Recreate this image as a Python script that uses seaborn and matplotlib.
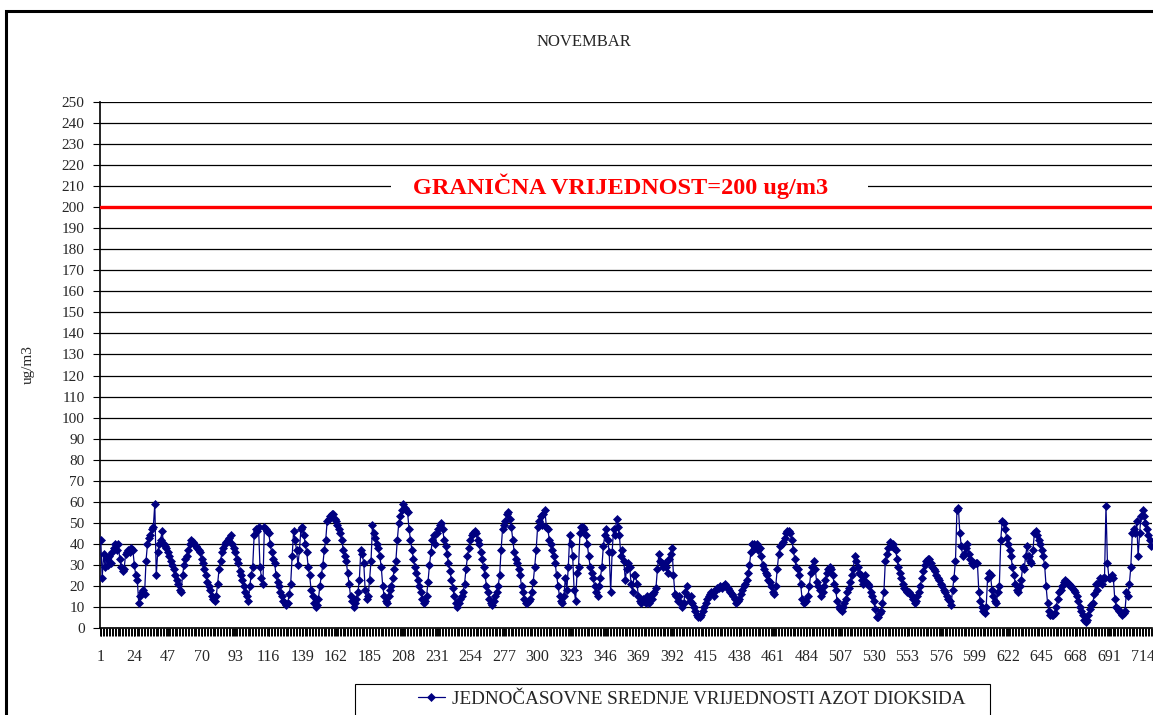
import numpy as np
import pandas as pd
import matplotlib
matplotlib.use("Agg")
import matplotlib.pyplot as plt
from matplotlib.patches import Rectangle
import seaborn as sns

# hourly NO2 values for November, one list per day (24 hours each)
day_01 = [42, 24, 35, 29, 33, 30, 34, 31, 36, 38, 40, 37, 40, 33, 29, 27, 28, 35, 36, 37, 36, 38, 37, 30]
day_02 = [25, 23, 12, 15, 17, 18, 16, 32, 40, 43, 44, 47, 48, 59, 25, 36, 40, 42, 46, 40, 39, 38, 36, 34]
day_03 = [32, 30, 28, 25, 23, 21, 18, 17, 25, 30, 33, 34, 37, 40, 42, 41, 40, 39, 38, 37, 36, 33, 31, 28]
day_04 = [25, 22, 20, 18, 15, 14, 13, 15, 21, 28, 32, 36, 38, 40, 41, 42, 43, 44, 40, 38, 36, 33, 31, 27]
day_05 = [25, 23, 20, 17, 15, 13, 20, 25, 29, 44, 47, 46, 48, 29, 24, 21, 48, 47, 46, 45, 40, 36, 33, 31]
day_06 = [25, 22, 20, 17, 15, 13, 12, 11, 12, 16, 21, 34, 46, 42, 37, 30, 37, 47, 48, 44, 40, 36, 29, 25]
day_07 = [18, 15, 12, 10, 11, 14, 20, 25, 30, 37, 42, 51, 52, 53, 54, 54, 52, 51, 49, 47, 45, 42, 37, 34]
day_08 = [32, 26, 21, 15, 13, 10, 12, 14, 17, 23, 37, 35, 31, 18, 14, 15, 23, 32, 49, 45, 43, 40, 38, 34]
day_09 = [29, 20, 15, 13, 12, 15, 18, 20, 24, 28, 32, 42, 50, 53, 56, 59, 57, 56, 55, 47, 42, 37, 33, 29]
day_10 = [26, 23, 20, 17, 14, 12, 13, 15, 22, 30, 36, 42, 44, 40, 45, 47, 49, 50, 47, 42, 39, 35, 31, 27]
day_11 = [23, 19, 15, 12, 10, 12, 14, 15, 17, 21, 28, 34, 38, 42, 44, 45, 46, 45, 42, 40, 36, 33, 29, 25]
day_12 = [20, 17, 14, 12, 11, 13, 15, 17, 20, 25, 37, 47, 49, 51, 54, 55, 52, 48, 42, 36, 33, 31, 28, 25]
day_13 = [20, 17, 14, 12, 12, 13, 14, 17, 22, 29, 37, 48, 51, 53, 49, 54, 56, 48, 47, 42, 40, 37, 34, 31]
day_14 = [25, 20, 15, 13, 12, 15, 24, 18, 29, 44, 40, 34, 18, 13, 26, 29, 45, 48, 48, 47, 44, 40, 34, 29]
day_15 = [26, 24, 20, 17, 15, 20, 24, 29, 39, 44, 47, 42, 36, 17, 36, 47, 44, 52, 48, 44, 34, 37, 32, 23]
day_16 = [28, 31, 29, 21, 17, 25, 25, 21, 15, 13, 12, 14, 13, 12, 15, 12, 15, 14, 16, 17, 19, 28, 35, 32]
day_17 = [31, 29, 31, 29, 26, 33, 35, 38, 25, 16, 15, 13, 15, 12, 10, 12, 17, 20, 15, 13, 15, 12, 10, 8]
day_18 = [6, 5, 5, 6, 8, 10, 12, 14, 15, 16, 17, 17, 15, 18, 19, 19, 20, 19, 20, 21, 20, 19, 18, 17]
day_19 = [16, 15, 14, 12, 13, 14, 16, 18, 20, 21, 23, 26, 30, 36, 40, 40, 38, 40, 37, 38, 34, 30, 28, 26]
day_20 = [25, 23, 22, 20, 17, 16, 20, 28, 35, 39, 40, 41, 43, 45, 46, 46, 45, 42, 37, 33, 29, 28, 25, 21]
day_21 = [14, 12, 13, 13, 15, 20, 26, 29, 32, 28, 22, 20, 18, 15, 17, 20, 23, 26, 28, 29, 28, 25, 21, 18]
day_22 = [13, 10, 9, 8, 10, 12, 14, 17, 19, 22, 25, 28, 34, 32, 29, 26, 25, 23, 21, 25, 22, 21, 20, 17]
day_23 = [15, 13, 9, 5, 5, 7, 8, 12, 17, 32, 35, 38, 41, 39, 40, 38, 37, 33, 29, 26, 24, 21, 19, 18]
day_24 = [17, 17, 16, 15, 14, 12, 13, 15, 17, 20, 24, 27, 30, 32, 33, 33, 31, 29, 28, 27, 25, 24, 23, 21]
day_25 = [20, 18, 17, 15, 14, 13, 11, 18, 24, 32, 56, 57, 45, 39, 34, 35, 38, 40, 35, 33, 31, 30, 31, 31]
day_26 = [31, 17, 13, 10, 8, 7, 10, 24, 26, 25, 18, 15, 13, 12, 17, 20, 42, 51, 50, 47, 43, 40, 37, 34]
day_27 = [29, 25, 21, 18, 17, 20, 23, 29, 28, 34, 39, 34, 32, 31, 37, 45, 46, 44, 42, 40, 37, 34, 30, 20]
day_28 = [12, 8, 6, 6, 6, 7, 10, 14, 17, 18, 20, 22, 23, 22, 21, 21, 20, 19, 18, 17, 15, 13, 10, 8]
day_29 = [6, 4, 3, 4, 6, 9, 11, 12, 16, 21, 18, 22, 24, 21, 24, 24, 58, 31, 24, 24, 25, 24, 14, 10]
day_30 = [9, 8, 7, 6, 7, 8, 17, 15, 21, 29, 45, 47, 45, 51, 34, 45, 53, 56, 53, 50, 47, 44, 42, 39]

days = [day_01, day_02, day_03, day_04, day_05, day_06, day_07, day_08, day_09, day_10,
        day_11, day_12, day_13, day_14, day_15, day_16, day_17, day_18, day_19, day_20,
        day_21, day_22, day_23, day_24, day_25, day_26, day_27, day_28, day_29, day_30]
values = [v for d in days for v in d]
hours = list(range(1, len(values) + 1))

x_tick_labels = list(range(1, 715, 23))
y_ticks = list(range(0, 251, 10))
limit_value = 200
limit_text = "GRANIČNA VRIJEDNOST=200 ug/m3"
series_name = "JEDNOČASOVNE SREDNJE VRIJEDNOSTI AZOT DIOKSIDA"
title = "NOVEMBAR"

sns.set_style("white")
plt.rcParams['font.family'] = ['Liberation Serif', 'DejaVu Serif']

W, H = 1153, 715
fig = plt.figure(figsize=(W / 100, H / 100), dpi=100)
ax = fig.add_axes([100 / W, 87 / H, 1052 / W, 526 / H])

df = pd.DataFrame({"sat": hours, "no2": values})
sns.lineplot(data=df, x="sat", y="no2", ax=ax, color="#000080", linewidth=0.9,
             marker="D", markersize=4.2, markeredgewidth=0.5,
             markeredgecolor="#000080", label=series_name, zorder=4)

ax.axhline(limit_value, color="#FF0000", linewidth=2.4, zorder=3)

ax.set_xlim(0.5, len(values) + 0.5)
ax.set_ylim(0, 250)
ax.set_yticks(y_ticks)
ax.set_yticklabels([str(t) for t in y_ticks], fontsize=11)
ax.set_xticks(x_tick_labels)
ax.set_xticklabels([str(t) for t in x_tick_labels], fontsize=11.5)
ax.set_xticks(np.arange(0.5, len(values) + 1, 1), minor=True)
ax.tick_params(axis="x", which="both", direction="out", length=6, width=0.7,
               color="black", bottom=True, pad=9)
ax.tick_params(axis="y", which="major", direction="out", length=5, width=0.8,
               color="black", left=True, pad=6)
ax.yaxis.grid(True, color="black", linewidth=0.9)
ax.xaxis.grid(False)
ax.set_axisbelow(True)
ax.set_xlabel("")
ax.set_ylabel("")
for side in ["top", "right"]:
    ax.spines[side].set_visible(False)
for side in ["left", "bottom"]:
    ax.spines[side].set_color("black")
    ax.spines[side].set_linewidth(1.2)

# white backing behind the limit label (hides the 210 gridline)
ax.add_patch(Rectangle((200, 206), 326, 8, facecolor="white", edgecolor="none", zorder=2))
ax.text(357, 210, limit_text, color="#FF0000", fontsize=17.5, fontweight="bold",
        ha="center", va="center", zorder=5)

fig.text(584 / W, 1 - 42 / H, title, ha="center", va="center", fontsize=12)
fig.text(28 / W, 1 - 365 / H, "ug/m3", rotation=90, ha="center", va="center", fontsize=11)

ax.legend(loc="center left", bbox_to_anchor=(418 / W, 1 - 699 / H),
          bbox_transform=fig.transFigure, frameon=False, borderpad=0,
          borderaxespad=0, handlelength=1.4, handletextpad=0.35,
          prop={"size": 13.8})

fig.patches.append(Rectangle((355 / W, -0.02), 635 / W, (715 - 684) / H + 0.02,
                             transform=fig.transFigure, fill=False,
                             edgecolor="black", linewidth=0.8))
fig.patches.append(Rectangle((6 / W, -0.05), 1.1, (715 - 11) / H + 0.05,
                             transform=fig.transFigure, fill=False,
                             edgecolor="black", linewidth=2.2))

fig.savefig("out.png", dpi=100, facecolor="white")
